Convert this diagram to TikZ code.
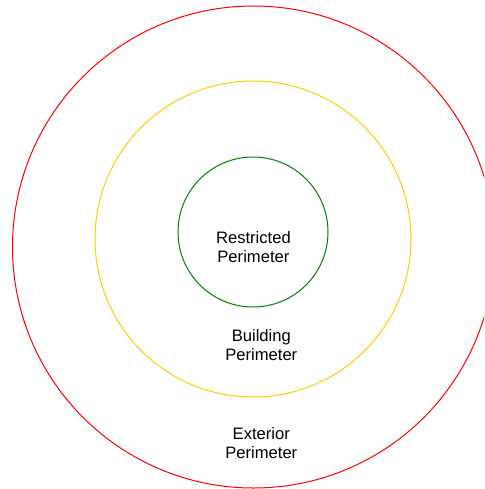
\documentclass[tikz,border=0pt]{standalone}
\usepackage{fontspec}
\setmainfont{Liberation Sans}
\definecolor{ringred}{RGB}{255,0,0}
\definecolor{ringyellow}{RGB}{255,204,0}
\definecolor{ringgreen}{RGB}{0,128,0}
\tikzset{
  ring/.style={circle, draw, line width=1pt, inner sep=0pt, minimum size=#1},
  lbl/.style={align=center, inner sep=0pt, font=\fontsize{16.6}{19}\selectfont, text=black}
}
\begin{document}
\begin{tikzpicture}[x=1pt,y=-1pt]
\clip (0,0) rectangle (484,489);
\useasboundingbox (0,0) rectangle (484,489);
\node[ring=482pt, draw=ringred] (ext) at (253.5,247) {};
\node[ring=316pt, draw=ringyellow] (bld) at (253,239) {};
\node[ring=150pt, draw=ringgreen] (res) at (253,232) {};
\node[lbl] (restxt) at (253.4,247) {Restricted\\Perimeter};
\node[lbl] (bldtxt) at (261.3,345.3) {Building\\Perimeter};
\node[lbl] (exttxt) at (261.3,443) {Exterior\\Perimeter};
\end{tikzpicture}
\end{document}
